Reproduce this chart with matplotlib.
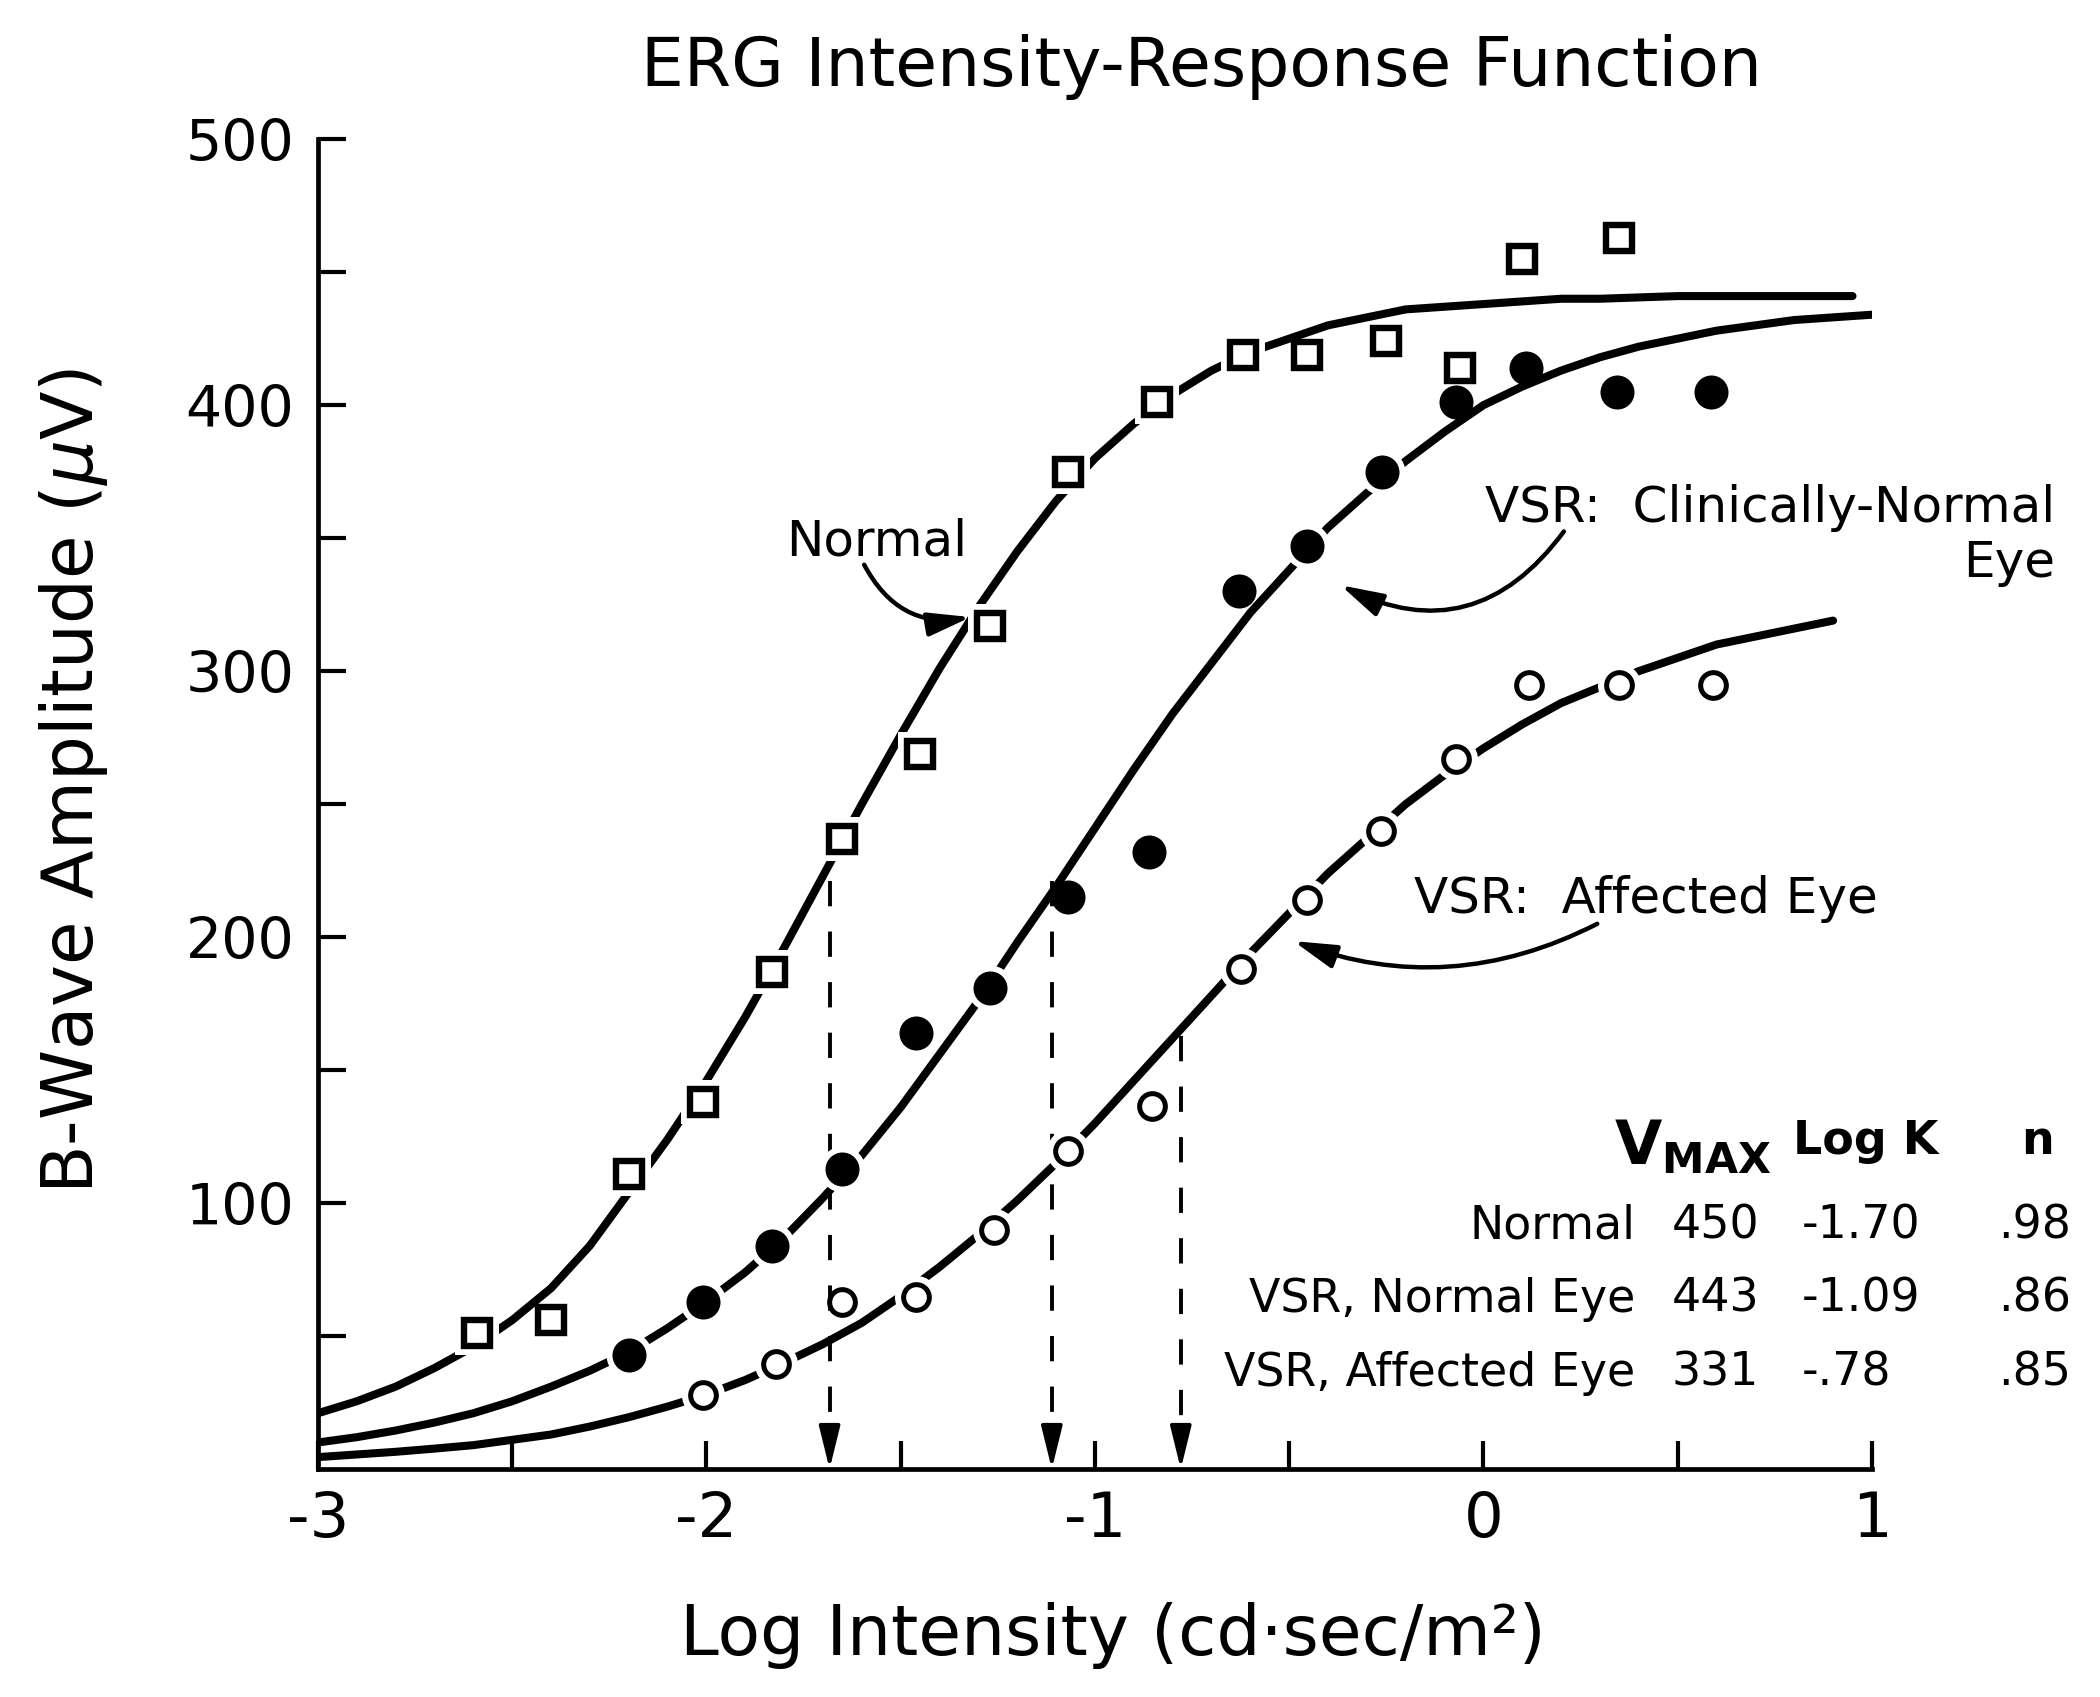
# ERG intensity-response function, three Naka-Rushton style fits
import matplotlib
matplotlib.use("Agg")
import matplotlib.pyplot as plt

plt.rcParams['font.family'] = ['DejaVu Sans']
plt.rcParams['mathtext.fontset'] = 'dejavusans'

# ---- data ----
# measured points
normal_x = [-2.59, -2.40, -2.20, -2.01, -1.83, -1.65, -1.45, -1.27, -1.07, -0.84, -0.62, -0.455, -0.25, -0.06, 0.10, 0.35]
normal_y = [51, 56, 111, 138, 187, 237, 269, 317, 375, 401, 419, 419, 424, 414, 455, 463]
normal_gap = [1, 0, 1, 1, 1, 1, 1, 1, 1, 1, 1, 0, 0, 0, 0, 0]   # point sits on the fit line

vsr_normal_x = [-2.20, -2.01, -1.83, -1.65, -1.46, -1.27, -1.07, -0.86, -0.63, -0.455, -0.26, -0.07, 0.11, 0.345, 0.585]
vsr_normal_y = [43, 63, 84, 113, 164, 181, 215, 232, 330, 347, 375, 401, 414, 405, 405]
vsr_normal_gap = [1, 1, 1, 1, 0, 1, 0, 0, 0, 1, 1, 0, 0, 0, 0]

affected_x = [-2.01, -1.82, -1.65, -1.46, -1.26, -1.07, -0.853, -0.624, -0.455, -0.264, -0.07, 0.117, 0.35, 0.59]
affected_y = [28, 39.5, 63, 64.6, 90, 119.5, 136.6, 188, 214, 240, 267, 294.6, 294.6, 294.6]
affected_gap = [1, 1, 0, 1, 1, 1, 0, 1, 1, 1, 1, 0, 1, 0]

# fitted curves, sampled off the drawn lines
normal_fit_x = [-3.0, -2.9, -2.8, -2.7, -2.6, -2.5, -2.4, -2.3, -2.2, -2.1, -2.0,
                -1.9, -1.8, -1.7, -1.6, -1.5, -1.4, -1.3, -1.2, -1.1, -1.0,
                -0.9, -0.8, -0.7, -0.6, -0.5, -0.4, -0.3, -0.2, -0.1, 0.0,
                0.1, 0.2, 0.3, 0.4, 0.5, 0.6, 0.7, 0.8, 0.95]
normal_fit_y = [21, 25.5, 31, 38, 46, 56, 68, 84, 104, 124, 146,
                170, 196, 223, 250, 276, 301, 324, 345, 364, 380,
                393, 404, 413, 420, 425, 430, 433, 436, 437, 438,
                439, 440, 440, 440.5, 441, 441, 441, 441, 441]

vsr_normal_fit_x = [-3.0, -2.9, -2.8, -2.7, -2.6, -2.5, -2.4, -2.3, -2.2, -2.1, -2.0,
                    -1.9, -1.8, -1.7, -1.6, -1.5, -1.4, -1.3, -1.2, -1.1, -1.0,
                    -0.9, -0.8, -0.7, -0.6, -0.5, -0.4, -0.3, -0.2, -0.1, 0.0,
                    0.1, 0.2, 0.3, 0.4, 0.5, 0.6, 0.7, 0.8, 0.9, 1.0]
vsr_normal_fit_y = [10, 12, 14.5, 17.5, 21, 25.5, 31, 37, 44, 53, 63,
                    74, 87, 102, 118, 136, 156, 176, 198, 219, 241,
                    263, 284, 303, 322, 338, 354, 367, 379, 390, 400,
                    407, 413, 418, 422, 425, 428, 430, 432, 433, 434]

affected_fit_x = [-3.0, -2.9, -2.8, -2.7, -2.6, -2.5, -2.4, -2.3, -2.2, -2.1, -2.0,
                  -1.9, -1.8, -1.7, -1.6, -1.5, -1.4, -1.3, -1.2, -1.1, -1.0,
                  -0.9, -0.8, -0.7, -0.6, -0.5, -0.4, -0.3, -0.2, -0.1, 0.0,
                  0.1, 0.2, 0.3, 0.4, 0.5, 0.6, 0.7, 0.8, 0.9]
affected_fit_y = [4.5, 5.5, 6.5, 7.7, 9, 11, 13, 16, 19.5, 23.5, 28,
                  33.5, 40, 47, 55, 65, 76, 88, 101, 115, 130,
                  146, 162, 178, 194, 209, 224, 237, 250, 261, 271,
                  280, 288, 294, 300, 305, 310, 313, 316, 319]

# log K drop lines (x position, top of the dashed line)
drop_x = [-1.683, -1.111, -0.779]
drop_top = [221, 221, 163]

# parameter table
table_rows = ["Normal", "VSR, Normal Eye", "VSR, Affected Eye"]
table_vmax = ["450", "443", "331"]
table_logk = ["-1.70", "-1.09", "-.78"]
table_n = [".98", ".86", ".85"]

x_ticks = [-3, -2.5, -2, -1.5, -1, -0.5, 0, 0.5, 1]
x_labels = ["-3", "", "-2", "", "-1", "", "0", "", "1"]
y_ticks = [50, 100, 150, 200, 250, 300, 350, 400, 450, 500]
y_labels = ["", "100", "", "200", "", "300", "", "400", "", "500"]

# ---- figure ----
fig = plt.figure(figsize=(21, 16.97), dpi=100)
ax = fig.add_axes([0.1514, 0.1343, 0.74, 0.7837])

for s in ["top", "right"]:
    ax.spines[s].set_visible(False)
for s in ["left", "bottom"]:
    ax.spines[s].set_linewidth(3.4)
    ax.spines[s].set_capstyle("projecting")

ax.set_xlim(-3, 1)
ax.set_ylim(0, 500)
ax.set_xticks(x_ticks)
ax.set_xticklabels(x_labels, fontsize=45)
ax.set_yticks(y_ticks)
ax.set_yticklabels(y_labels, fontsize=41)
ax.tick_params(direction="in", length=20, width=3.0)
ax.tick_params(axis="x", pad=15)
ax.tick_params(axis="y", pad=17)

# fit lines
for fx, fy in [(normal_fit_x, normal_fit_y), (vsr_normal_fit_x, vsr_normal_fit_y),
               (affected_fit_x, affected_fit_y)]:
    ax.plot(fx, fy, color="black", lw=5.8, solid_capstyle="round",
            solid_joinstyle="round", zorder=2)


def draw_points(xs, ys, gaps, marker, ms, mew, face, halo_ms):
    # white halo breaks the fit line around points that sit on it
    hx = [x for x, g in zip(xs, gaps) if g]
    hy = [y for y, g in zip(ys, gaps) if g]
    ax.plot(hx, hy, ls="none", marker=marker, ms=halo_ms, mfc="white",
            mec="white", mew=0, zorder=3)
    ax.plot(xs, ys, ls="none", marker=marker, ms=ms, mfc=face, mec="black",
            mew=mew, zorder=4)


draw_points(normal_x, normal_y, normal_gap, "s", 18.5, 4.6, "white", 32)
draw_points(vsr_normal_x, vsr_normal_y, vsr_normal_gap, "o", 24.5, 0, "black", 33)
draw_points(affected_x, affected_y, affected_gap, "o", 18.5, 3.6, "white", 31)

# dashed drop lines to log K
for x, top in zip(drop_x, drop_top):
    ax.plot([x, x], [top, 14], color="black", lw=2.8, dashes=(6.5, 6.5), zorder=1)
    ax.annotate("", xy=(x, 0), xytext=(x, 15), annotation_clip=False,
                arrowprops=dict(arrowstyle="-|>,head_length=1.3,head_width=0.32",
                                color="black", lw=2.8, shrinkA=0, shrinkB=0,
                                mutation_scale=20))

# curve labels with curved arrows
arrow_kw = dict(arrowstyle="-|>,head_length=1.3,head_width=0.36", color="black",
                lw=3.2, shrinkA=0, shrinkB=0, mutation_scale=20)

ax.text(-1.563, 343.4, "Normal", fontsize=36, ha="center", va="baseline")
ax.annotate("", xy=(-1.32, 320.3), xytext=(-1.594, 340),
            arrowprops=dict(connectionstyle="arc3,rad=0.36", **arrow_kw))

ax.text(1.471, 356, "VSR:  Clinically-Normal", fontsize=36, ha="right", va="baseline")
ax.text(1.471, 335.4, "Eye", fontsize=36, ha="right", va="baseline")
ax.annotate("", xy=(-0.368, 332.3), xytext=(0.207, 352.5),
            arrowprops=dict(connectionstyle="arc3,rad=-0.42", **arrow_kw))

ax.text(-0.178, 209, "VSR:  Affected Eye", fontsize=36, ha="left", va="baseline")
ax.annotate("", xy=(-0.489, 198.5), xytext=(0.293, 205),
            arrowprops=dict(connectionstyle="arc3,rad=-0.22", **arrow_kw))

# parameter table
ax.text(0.335, 114.5, r"$\mathbf{V}_{\mathbf{MAX}}$", fontsize=44, ha="left", va="baseline")
ax.text(0.983, 118.5, "Log K", fontsize=33, fontweight="bold", ha="center", va="baseline")
ax.text(1.426, 118.5, "n", fontsize=33, fontweight="bold", ha="center", va="baseline")

row_y = [86.8, 59.1, 31.4]
for yy, name, vm, lk, nn in zip(row_y, table_rows, table_vmax, table_logk, table_n):
    ax.text(0.391, yy, name, fontsize=33, ha="right", va="baseline")
    ax.text(0.484, yy, vm, fontsize=33, ha="left", va="baseline")
    ax.text(0.820, yy, lk, fontsize=33, ha="left", va="baseline")
    ax.text(1.513, yy, nn, fontsize=33, ha="right", va="baseline")

# titles
fig.text(0.572, 0.9605, "ERG Intensity-Response Function", fontsize=49,
         ha="center", va="center")
fig.text(0.530, 0.036, "Log Intensity (cd\u00b7sec/m\u00b2)", fontsize=50,
         ha="center", va="center")
fig.text(0.0352, 0.540, r"B-Wave Amplitude ($\mu$V)", fontsize=51, rotation=90,
         ha="center", va="center")

fig.savefig("out.png", dpi=100)
